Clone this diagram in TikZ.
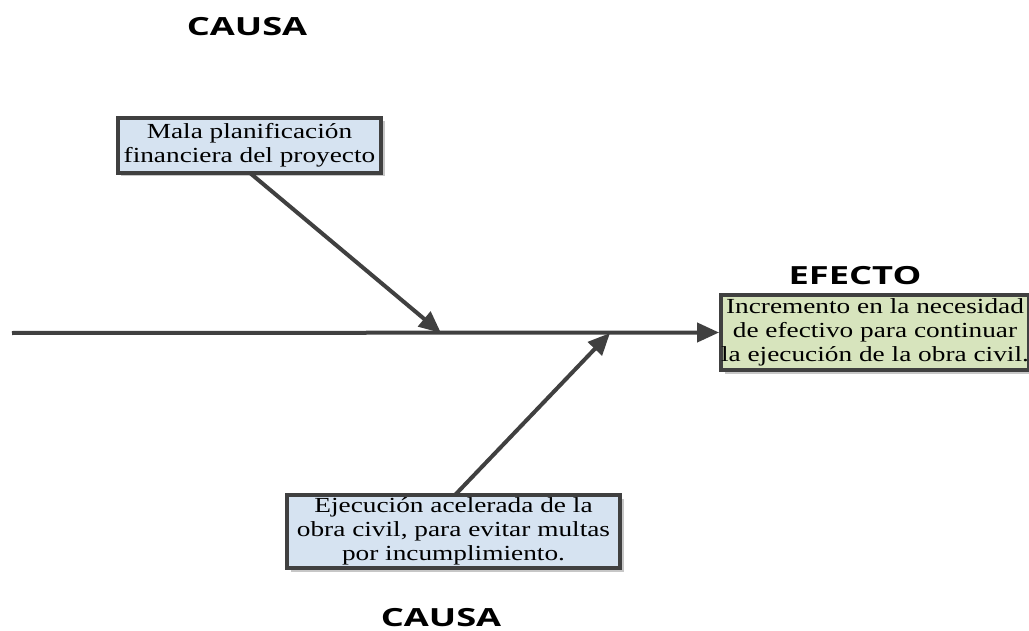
\documentclass[tikz,border=0pt]{standalone}
\usepackage{fontspec}
\setmainfont{Liberation Serif}
\newfontfamily\boxfont[FakeStretch=1.27]{Liberation Serif}
\newfontfamily\labfont[FakeStretch=1.45]{Open Sans}
\usetikzlibrary{arrows.meta,shadows}
\definecolor{linegray}{HTML}{404040}
\definecolor{boxblue}{HTML}{D6E3F1}
\definecolor{boxgreen}{HTML}{D7E4BD}
\tikzset{
  causebox/.style={draw=linegray, line width=4bp, fill=boxblue, align=center,
    inner sep=0pt, font=\boxfont\fontsize{21.5bp}{24bp}\selectfont,
    drop shadow={shadow xshift=3.5bp, shadow yshift=-3.5bp, fill=black!22, opacity=1}},
  effectbox/.style={causebox, fill=boxgreen},
  label/.style={font=\labfont\bfseries\fontsize{25bp}{28bp}\selectfont, inner sep=0pt},
  conn/.style={draw=linegray, line width=4bp, -{Triangle[length=22bp,width=19bp]}}
}
\begin{document}
\begin{tikzpicture}[x=1bp,y=-1bp]
\useasboundingbox (0,0) rectangle (1029,631);
\node[label] (c1) at (247,27) {CAUSA};
\node[label] (c2) at (441,618) {CAUSA};
\node[label] (ef) at (855,276) {EFECTO};
\node[causebox, minimum width=263bp, minimum height=55bp] (b1) at (249.5,145.5)
  {Mala planificación\\financiera del proyecto};
\node[causebox, minimum width=333bp, minimum height=73bp] (b2) at (453.5,531.5)
  {Ejecución acelerada de la\\obra civil, para evitar multas\\por incumplimiento.};
\node[effectbox, minimum width=304bp, minimum height=75bp] (b3) at (875,332.5)
  {Incremento en la necesidad\\de efectivo para continuar\\la ejecución de la obra civil.};
\coordinate (start) at (12,333);
\coordinate (t1) at (441,333);
\coordinate (t2) at (610,333);
\draw[conn] (start) -- (b3.west);
\draw[conn] (250,173) coordinate (s1) -- (t1);
\draw[conn] (455,495) coordinate (s2) -- (t2);
\end{tikzpicture}
\end{document}
